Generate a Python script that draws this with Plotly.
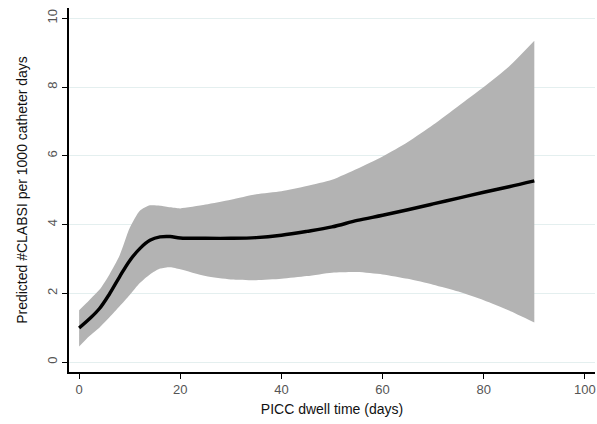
import plotly.graph_objects as go

dwell_days = [0, 2, 4, 6, 8, 10, 12, 14, 16, 18, 20, 25, 30, 35, 40, 45, 50, 55, 60, 65, 70, 75, 80, 85, 90]
predicted = [0.99, 1.25, 1.55, 1.98, 2.48, 2.95, 3.30, 3.54, 3.64, 3.65, 3.61, 3.60, 3.60, 3.62, 3.69, 3.80, 3.93, 4.12, 4.27, 4.43, 4.60, 4.77, 4.94, 5.10, 5.27]
upper_ci = [1.51, 1.80, 2.10, 2.55, 3.10, 3.90, 4.40, 4.56, 4.55, 4.50, 4.47, 4.58, 4.72, 4.88, 4.97, 5.12, 5.30, 5.62, 5.98, 6.40, 6.90, 7.45, 8.00, 8.60, 9.35]
lower_ci = [0.45, 0.75, 1.00, 1.30, 1.62, 1.95, 2.30, 2.55, 2.72, 2.76, 2.70, 2.50, 2.40, 2.38, 2.42, 2.50, 2.60, 2.62, 2.55, 2.42, 2.25, 2.05, 1.80, 1.50, 1.15]

x_ticks = [0, 20, 40, 60, 80, 100]
y_ticks = [0, 2, 4, 6, 8, 10]

band = "#b3b3b3"
fig = go.Figure()
fig.add_trace(go.Scatter(x=dwell_days, y=upper_ci, mode="lines",
                         line=dict(width=0, color=band, shape="spline", smoothing=0.6),
                         showlegend=False, hoverinfo="skip"))
fig.add_trace(go.Scatter(x=dwell_days, y=lower_ci, mode="lines",
                         line=dict(width=0, color=band, shape="spline", smoothing=0.6),
                         fill="tonexty", fillcolor=band, showlegend=False, hoverinfo="skip"))
fig.add_trace(go.Scatter(x=dwell_days, y=predicted, mode="lines",
                         line=dict(width=3.4, color="#000000", shape="spline"),
                         showlegend=False))

font_family = "Liberation Sans, Arial, sans-serif"
fig.update_layout(
    width=597, height=424,
    margin=dict(l=69, r=2, t=8, b=52),
    paper_bgcolor="white", plot_bgcolor="white",
    font=dict(family=font_family, color="#111111"),
    xaxis=dict(
        range=[-2, 102], tickvals=x_ticks, ticktext=[str(v) for v in x_ticks],
        automargin=False,
        showgrid=False, zeroline=False,
        showline=True, linecolor="#000000", linewidth=1.5,
        ticks="outside", ticklen=5, tickcolor="#000000", tickwidth=1,
        tickfont=dict(size=13, color="#555555", family=font_family),
        title=dict(text="PICC dwell time (days)", font=dict(size=14, color="#111111", family=font_family), standoff=8),
    ),
    yaxis=dict(
        range=[-0.29, 10.3], tickvals=y_ticks, ticktext=[str(v) for v in y_ticks],
        tickangle=-90, automargin=False,
        showgrid=True, gridcolor="#e4efef", gridwidth=1, zeroline=False,
        showline=True, linecolor="#000000", linewidth=1.5,
        ticks="outside", ticklen=5, tickcolor="#000000", tickwidth=1,
        tickfont=dict(size=13, color="#555555", family=font_family),
        title=dict(text="Predicted #CLABSI per 1000 catheter days", font=dict(size=14, color="#111111", family=font_family), standoff=14),
    ),
)

fig.write_html("out.html", config={"displayModeBar": False},
               post_script="document.body.style.margin='0px';document.body.style.padding='0px';")
